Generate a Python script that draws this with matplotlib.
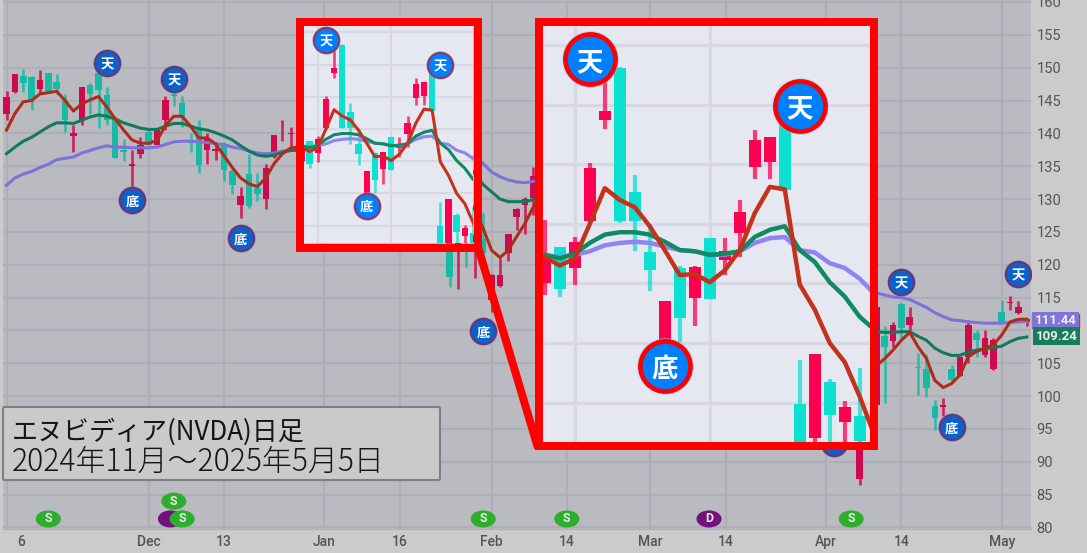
import matplotlib
matplotlib.use("Agg")
import matplotlib.pyplot as plt
from matplotlib.patches import Ellipse, Rectangle, FancyBboxPatch
from matplotlib.lines import Line2D
from matplotlib.transforms import ScaledTranslation

W, H = 1087, 553
JP = ["Noto Sans CJK JP", "DejaVu Sans"]

# ---------- candle data (trading-day index, price) ----------
candle_days = list(range(0, 35)) + list(range(36, 64)) + [102] + list(range(104, 123))
rising = ("RRTTRTTTRRTTTTTRRTRRTTTTRRTTRTTRRRR"
          "RTRRRTTTRTRTRRRRTTRTRTRRRRRR"
          "R"
          "RTRTRTTTRTRRTRRTRRR")
highs = [146.5, 149, 149.8, 148.7, 149.6, 149.2, 149, 146, 141.3, 147.1,
         147.6, 150, 147.1, 142.5, 139.2, 137.4, 139.4, 140.5, 140.7, 145.7,
         148, 145.7, 140, 142, 140, 138.7, 138.7, 134.6, 131.8, 136.8,
         133.9, 135.3, 139.8, 142, 141,
         140.3, 138.1, 138.9, 145.1, 152.9, 153.2, 144.1, 140, 133.5, 136.5,
         136.5, 138.8, 138.8, 142, 147.9, 147.3, 148.7, 128.6, 129.1, 127,
         125.1, 127.9, 118.6, 121, 124.7, 128.6, 130.3, 134.9,
         97.6,
         114.1, 110.6, 111.3, 114.1, 113.5, 106.5, 106.4, 99.4, 99.7, 104.7,
         106, 111.6, 110.1, 110.1, 108.8, 114.6, 115.2, 114.5, 111.8]
tops = [145.6, 149, 148.7, 148.6, 148.1, 149.2, 147.8, 145, 140.1, 147,
        147.3, 149.2, 145.9, 142.2, 137.4, 135.4, 138.3, 140.2, 140.5, 145.1,
        146, 144.6, 138.7, 140.5, 139.2, 137.6, 138.3, 134.3, 130.5, 133.8,
        131.7, 134.8, 139.7, 140.1, 140.1,
        137.4, 138.1, 138.5, 144.7, 149.5, 153.1, 142.7, 137.6, 133.5, 136.3,
        136.4, 138.8, 137.7, 141, 147, 147.3, 148.7, 124.9, 129.1, 126.7,
        124.6, 123.9, 118.4, 118.4, 124.7, 128.5, 130, 133.5,
        97.6,
        113.5, 109.1, 110.8, 114, 112.1, 104.5, 104.2, 98.5, 98.6, 104.2,
        106, 110.8, 109.6, 108.8, 108.6, 112.8, 114.4, 113.6, 111.8]
bottoms = [143, 146.3, 147.6, 145.3, 146.8, 146.4, 146.7, 142, 139.6, 142,
           146, 146.6, 142, 136.3, 137.1, 135.1, 136.9, 138.2, 138.3, 142.1,
           145.7, 142.5, 138.6, 135.2, 137.5, 137.3, 134.4, 132.2, 129.1, 129,
           130.7, 130, 136.4, 140, 139.9,
           135, 134.5, 136.3, 140.2, 148.7, 140.2, 140.2, 136.1, 129.5, 132.1,
           133.8, 133.7, 137, 139.2, 144.8, 145.2, 142.8, 118.2, 122, 124,
           123.4, 121.8, 114.6, 116.8, 121.8, 127.2, 129.1, 130.2,
           87.4,
           98.6, 107.5, 108.4, 110.3, 110.8, 104.3, 101.3, 96.7, 98.4, 102.4,
           103.1, 106, 108.5, 106.3, 104.2, 111.3, 114.1, 112.7, 111.3]
lows = [142, 146.2, 146.3, 143.6, 146, 146.2, 146, 140.2, 137.2, 141.2,
        143, 140.8, 141.2, 136.2, 135.8, 131.9, 136.3, 138.2, 138.2, 140.5,
        144.2, 141, 137.2, 133.9, 135.3, 135.9, 132.7, 130.7, 127.1, 128.6,
        129.7, 128.5, 136.3, 138.8, 137.8,
        134, 133.9, 134.9, 140, 148, 140.1, 137.7, 134.4, 128.5, 130.1,
        131.4, 133.7, 135.7, 137.2, 143.8, 143.8, 142.8, 116.6, 116.3, 119.7,
        118, 121, 112.8, 116.6, 120.6, 125.3, 124.7, 127.6,
        86.5,
        98.6, 99, 107.5, 108.8, 110.1, 100.2, 99.8, 94.8, 96.9, 102.3,
        103, 105, 106, 106, 103.9, 111.2, 113.1, 112.5, 110.6]

# ---------- moving averages ----------
ma_days_left = list(range(0, 65))
ma_days_right = list(range(104, 123))
ma_red_left = [140.5, 143, 144.8, 145, 146, 146.2, 146.4, 145, 143.4, 144.5,
               145.1, 145.6, 144, 142.2, 140.5, 139, 138.5, 138.5, 138.9, 141.2,
               142.6, 142.6, 141.1, 139.3, 139.3, 138.4, 136.6, 134.8, 133.2, 132.3,
               131.9, 133.2, 135.4, 136.9, 137.8, 137.9,
               137.2, 136.5, 137.1, 140, 143, 142, 141.4, 139.8, 137.8, 135.7,
               135.8, 135.1, 136.1, 137.8, 140.9, 143.1, 142.9, 134.9, 132.8, 130,
               128.4, 125.5, 122.2, 121.1, 122.2, 124.3, 126.3, 128.8, 131]
ma_green_left = [136.9, 137.9, 138.8, 139.4, 140.2, 141, 141.6, 141.6, 141.5, 142,
                 142.5, 142.8, 142.6, 142.2, 141.6, 141.2, 140.8, 140.6, 140.6, 141.1,
                 141.5, 141.5, 141.1, 140.7, 140.5, 140.1, 139.6, 139, 138.1, 137.3,
                 136.7, 136.5, 136.7, 137.1, 137.4, 137.4,
                 137.4, 137.1, 137.5, 138.4, 139.1, 139.3, 139.3, 139.1, 138.5, 137.8,
                 137.7, 137.4, 137.5, 137.7, 138.9, 139.5, 139.8, 137.8, 136.8, 135.1,
                 133.9, 132.2, 131.1, 130, 129.6, 129.6, 129.6, 129.9, 130.3]
ma_purple_left = [132.1, 133.2, 133.8, 134.2, 134.8, 135.3, 136, 136.2, 136.4, 137,
                  137.4, 137.8, 138.1, 137.9, 137.9, 137.8, 137.8, 137.8, 137.9, 138.3,
                  138.7, 138.8, 138.8, 138.7, 138.6, 138.4, 138.3, 137.9, 137.7, 137.3,
                  137, 136.9, 137, 137.3, 137.4, 137.4,
                  137.4, 137.2, 137.4, 137.7, 138.2, 138.4, 138.5, 138.4, 138.1, 137.8,
                  137.7, 137.4, 137.4, 137.7, 138.4, 138.8, 138.9, 137.8, 137.6, 136.7,
                  136.3, 135.4, 134.1, 133.4, 132.9, 132.6, 132.5, 132.7, 133]
ma_red_right = [104.6, 105.7, 107, 108.5, 109.7, 107.5, 105.7, 102.4, 101.3, 101.9,
                103.2, 106, 106.8, 107.3, 107.8, 109.3, 111.3, 111.7, 111.7]
ma_green_right = [109.8, 109.7, 109.7, 109.8, 109.8, 109.1, 108.5, 107.3, 106.6, 106.2,
                  106.2, 106.7, 107, 107.2, 107.4, 107.6, 108.3, 108.8, 109]
ma_purple_right = [115.7, 115.4, 115.1, 115, 114.7, 114.1, 113.5, 112.7, 112.1, 111.6,
                   111.5, 111.3, 111.2, 111.1, 111.1, 111.1, 111.2, 111.3, 111.4]

# ---------- signal markers ----------
signal_days = [12, 20, 15, 28, 57, 99, 107, 113, 121]
signal_prices = [150.7, 148.2, 129.8, 124, 109.9, 92.9, 117.3, 95.25, 118.6]
signal_labels = ["天", "天", "底", "底", "底", "底", "天", "底", "天"]
zoom_signal_days = [39, 53, 44]
zoom_signal_prices = [153.8, 149.9, 128.1]
zoom_signal_labels = ["天", "天", "底"]

event_days = [5, 20, 19.6, 21, 57, 67, 84, 101]
event_prices = [81.3, 84, 81.3, 81.3, 81.3, 81.3, 81.3, 81.3]
event_labels = ["S", "S", "", "S", "S", "S", "D", "S"]
event_colors = ["#2DAE2C", "#2DAE2C", "#74107F", "#2DAE2C", "#2DAE2C", "#2DAE2C", "#74107F", "#2DAE2C"]

tick_days = [0, 17, 26, 38, 47, 58, 67, 77, 86, 98, 107, 119]
tick_labels = ["6", "Dec", "13", "Jan", "16", "Feb", "14", "Mar", "14", "Apr", "14", "May"]
price_ticks = list(range(80, 165, 5))
price_tick_labels = ["" if v == 110 else str(v) for v in price_ticks]
zoom_vgrid_days = [38, 47]
title_lines = ["エヌビディア(NVDA)日足", "2024年11月～2025年5月5日"]


def px_axes(x0, y0, x1, y1, z):
    a = fig.add_axes([x0 / W, 1 - y1 / H, (x1 - x0) / W, (y1 - y0) / H], zorder=z)
    return a


def draw_series(a, style):
    for d, kind, hi, top, bot, lo in zip(candle_days, rising, highs, tops, bottoms, lows):
        c = style["up"] if kind == "R" else style["down"]
        a.vlines(d, lo, hi, color=c, lw=style["wick"], alpha=style["wick_alpha"], zorder=3)
        a.bar(d, top - bot, bottom=bot, width=0.78, color=c, linewidth=0, zorder=3)
    for days, vals, col in [(ma_days_left, ma_purple_left, style["purple"]),
                            (ma_days_right, ma_purple_right, style["purple"]),
                            (ma_days_left, ma_green_left, style["green"]),
                            (ma_days_right, ma_green_right, style["green"]),
                            (ma_days_left, ma_red_left, style["red"]),
                            (ma_days_right, ma_red_right, style["red"])]:
        a.plot(days, vals, color=col, lw=style["ma"], zorder=4, solid_joinstyle="round")


def draw_signals(a, days, prices, labels, size, fs, face, edge, lw, glow):
    a.scatter(days, prices, s=size * 1.3, color=glow, alpha=0.45, linewidths=0, zorder=6)
    a.scatter(days, prices, s=size, facecolor=face, edgecolor=edge, linewidths=lw, zorder=7)
    for d, p, t in zip(days, prices, labels):
        a.text(d, p, t, color="white", fontsize=fs, family=JP, ha="center",
               va="center_baseline", zorder=8, fontweight="bold", clip_on=True)


def frame(x0, y0, x1, y1):
    fig.add_artist(Rectangle((x0 / W, 1 - y1 / H), (x1 - x0) / W, (y1 - y0) / H,
                             transform=fig.transFigure, fill=False, ec="#FF0000",
                             lw=8 * 0.72, joinstyle="miter", zorder=20))


fig = plt.figure(figsize=(W / 100, H / 100), dpi=100, facecolor="#CBCBCB")

# ---------- main (dimmed) chart ----------
ax = px_axes(3, 0, 1031, 529, 1)
ax.set_facecolor("#BABBC1")
draw_series(ax, dict(up="#CF0A4C", down="#17BBA5", red="#AE2C18", green="#14795A",
                     purple="#7C72D8", wick=1.9, wick_alpha=0.85, ma=2.2))
ax.set_xticks(tick_days)
ax.set_xticklabels(tick_labels, fontsize=10, family="Roboto", color="#555555", fontweight="medium")
ax.set_yticks(price_ticks)
ax.set_yticklabels(price_tick_labels, fontsize=10.5, family="Roboto", color="#555555")
ax.set_xlim(-0.42, 122.5)
ax.set_ylim(79.77, 160.3)
ax.yaxis.tick_right()
ax.tick_params(length=0, pad=4)
ax.grid(True, color="#AEAEBB", lw=1.5, zorder=0)
ax.set_axisbelow(True)
for s in ax.spines.values():
    s.set_visible(False)
ax.spines["bottom"].set_visible(True)
ax.spines["bottom"].set_color("#AEAEBB")
first = ax.get_xticklabels()[0]
first.set_transform(first.get_transform() + ScaledTranslation(0.15, 0, fig.dpi_scale_trans))

draw_signals(ax, signal_days, signal_prices, signal_labels, 330, 9.5,
             "#0A62CC", "#6E3470", 1.6, "#5E9CE6")

for d, p, t, c in zip(event_days, event_prices, event_labels, event_colors):
    ax.add_patch(Ellipse((d, p), 3.0, 2.6, color=c, lw=0, zorder=6 if t == "" else 7))
    if t:
        ax.text(d, p, t, color="#E8E8E8", fontsize=9, fontweight="bold", family="Roboto",
                ha="center", va="center", zorder=8)

# price labels on the axis
ytrans = ax.get_yaxis_transform()
ax.add_patch(Rectangle((1.0005, 110.3), 0.046, 2.2, transform=ytrans, color="#B8402E",
                       clip_on=False, zorder=5))
ax.text(1.024, 111.5, "111.44", transform=ytrans, color="#ECECF4", fontsize=9.5, family="Roboto",
        fontweight="bold", ha="center", va="center", clip_on=False, zorder=6,
        bbox=dict(boxstyle="square,pad=0.18", fc="#7F75D6", ec="none"))
ax.text(1.025, 109.15, "109.24", transform=ytrans, color="#ECECEC", fontsize=9.5, family="Roboto",
        fontweight="bold", ha="center", va="center", clip_on=False, zorder=6,
        bbox=dict(boxstyle="square,pad=0.18", fc="#167C5C", ec="none"))

# ---------- magnified panels ----------
bright = dict(up="#FF0050", down="#0CE0D0", red="#C4321C", green="#108A62",
              purple="#8E84F2", wick=1.9, wick_alpha=0.75, ma=2.2)
for (x0, y0, x1, y1, lims, st, sz, fs, elw) in [
        (304, 26, 473, 243, (36.32, 57.0, 122.3, 156.0), bright, 330, 9.5, 1.6),
        (543, 26, 869.5, 442, (35.88, 57.65, 121.7, 156.6),
         dict(bright, wick=3.0, ma=3.2), 1300, 19, 3.4)]:
    z = px_axes(x0, y0, x1, y1, 3)
    z.set_facecolor("#E6E8F1")
    draw_series(z, st)
    z.set_xticks(zoom_vgrid_days)
    z.set_yticks(price_ticks)
    z.set_xlim(lims[0], lims[1])
    z.set_ylim(lims[2], lims[3])
    z.tick_params(length=0, labelbottom=False, labelleft=False)
    z.grid(True, color="#D7D8E4", lw=1.6 if sz < 500 else 2.4, zorder=0)
    z.set_axisbelow(True)
    for s in z.spines.values():
        s.set_visible(False)
    draw_signals(z, zoom_signal_days, zoom_signal_prices, zoom_signal_labels, sz, fs,
                 "#0080FF", "#8A3A6A" if sz < 500 else "#FF0000", elw, "#8FC4FF")

# ---------- callout shapes ----------
frame(299.5, 22, 477.5, 247.5)
frame(539, 22, 873.5, 446)
fig.add_artist(Line2D([478 / W, 538 / W], [1 - 247 / H, 1 - 448 / H], color="#FF0000",
                      lw=8 * 0.72, solid_capstyle="butt", transform=fig.transFigure, zorder=20))

# ---------- caption box ----------
fig.add_artist(FancyBboxPatch((3 / W, 1 - 480 / H), 437 / W, 73 / H, transform=fig.transFigure,
                              boxstyle="round,pad=0,rounding_size=0.002", fc="#CACACA",
                              ec="#7F7F7F", lw=1.5, zorder=15))
fig.text(12 / W, 1 - 440 / H, title_lines[0], fontsize=18.7, family=JP, color="#151515",
         ha="left", va="baseline", zorder=16)
fig.text(12 / W, 1 - 471 / H, title_lines[1], fontsize=21.6, family=JP, color="#151515",
         ha="left", va="baseline", zorder=16, fontweight="light")

fig.savefig("out.png", dpi=100, facecolor=fig.get_facecolor())
